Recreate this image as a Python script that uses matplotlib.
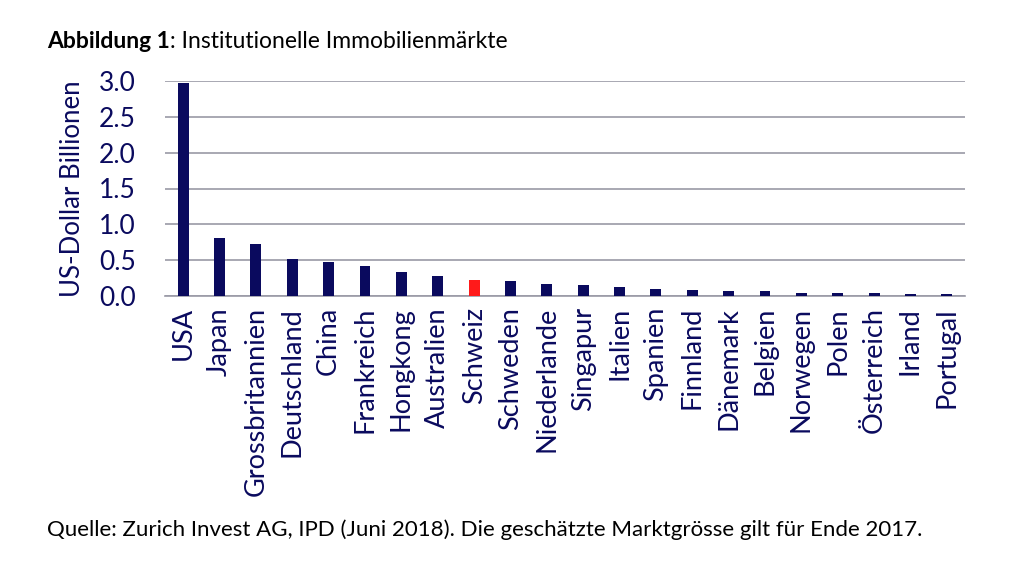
import matplotlib
matplotlib.use("Agg")
import matplotlib.pyplot as plt
import numpy as np

plt.rcParams['font.family'] = ['Lato', 'DejaVu Sans']

# Daten (US-Dollar Billionen)
laender = ["USA", "Japan", "Grossbritannien", "Deutschland", "China", "Frankreich",
           "Hongkong", "Australien", "Schweiz", "Schweden", "Niederlande", "Singapur",
           "Italien", "Spanien", "Finnland", "Dänemark", "Belgien", "Norwegen",
           "Polen", "Österreich", "Irland", "Portugal"]
werte = [2.97, 0.81, 0.72, 0.52, 0.47, 0.42, 0.33, 0.28, 0.23, 0.21, 0.17, 0.15,
         0.13, 0.10, 0.085, 0.065, 0.065, 0.045, 0.045, 0.045, 0.025, 0.025]
y_ticks = [0.0, 0.5, 1.0, 1.5, 2.0, 2.5, 3.0]

NAVY = "#0a0a5e"
RED = "#ff1a1a"
colors = [RED if l == "Schweiz" else NAVY for l in laender]

fig = plt.figure(figsize=(10.24, 5.64), dpi=100)
ax = fig.add_axes([165 / 1024, 1 - 296 / 564, 800 / 1024, 215 / 564])

x = np.arange(len(laender))
ax.bar(x, werte, width=0.3, color=colors, zorder=3)

ax.set_xlim(-0.5, len(laender) - 0.5)
ax.set_ylim(0, 3.0)
ax.set_yticks(y_ticks)
ax.set_yticklabels([f"{v:.1f}" for v in y_ticks], color=NAVY, fontsize=19)
ax.set_xticks(x)
ax.set_xticklabels(laender, rotation=90, color=NAVY, fontsize=19.5)
ax.tick_params(axis="x", length=0, pad=8)
ax.tick_params(axis="y", length=0, pad=21)
ax.yaxis.grid(True, color="#9a9aa6", linewidth=1.2, zorder=0)
ax.set_axisbelow(True)
for s in ["top", "right", "left"]:
    ax.spines[s].set_visible(False)
ax.spines["bottom"].set_color("#9a9aa6")
ax.spines["bottom"].set_linewidth(1.2)
ax.set_ylabel("US-Dollar Billionen", color=NAVY, fontsize=18.5, labelpad=10)

# Titel: fetter Teil + normaler Teil direkt anschliessend
t1 = fig.text(47 / 1024, 1 - 42 / 564, "Abbildung 1", fontsize=16.5, fontweight="bold",
              va="center", ha="left")
fig.canvas.draw()
bb = t1.get_window_extent()
fig.text(bb.x1 / 1024, 1 - 42 / 564, ": Institutionelle Immobilienmärkte", fontsize=16.5,
         va="center", ha="left")
fig.text(47 / 1024, 1 - 530 / 564,
         "Quelle: Zurich Invest AG, IPD (Juni 2018). Die geschätzte Marktgrösse gilt für Ende 2017.",
         fontsize=16, va="center", ha="left")

fig.savefig("out.png", dpi=100, facecolor="white")
